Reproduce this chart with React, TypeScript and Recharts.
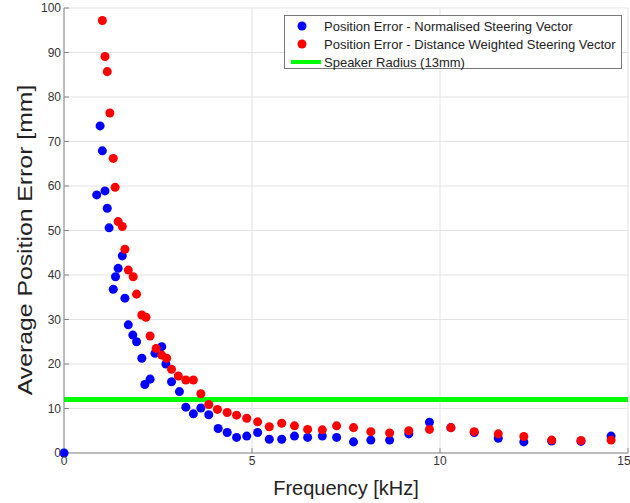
import { ScatterChart, Scatter, XAxis, YAxis, ZAxis, CartesianGrid, ReferenceLine } from 'recharts'

// frequency [kHz] / average position error [mm]
const freqNorm = [0, 0.87, 0.96, 1.02, 1.09, 1.15, 1.2, 1.31, 1.37, 1.44, 1.55, 1.62, 1.71, 1.83, 1.93, 2.07, 2.15, 2.29, 2.42, 2.6, 2.71, 2.86, 3.07, 3.24, 3.44, 3.64, 3.85, 4.1, 4.34, 4.59, 4.86, 5.15, 5.46, 5.79, 6.13, 6.48, 6.87, 7.25, 7.7, 8.16, 8.66, 9.17, 9.72, 10.29, 10.91, 11.55, 12.23, 12.97, 13.75, 14.55]
const errNorm = [0, 58.0, 73.5, 67.9, 58.9, 55.0, 50.6, 36.8, 39.6, 41.5, 44.3, 34.8, 28.8, 26.5, 25.0, 21.3, 15.4, 16.6, 22.4, 23.9, 20.0, 16.0, 13.8, 10.3, 8.8, 10.1, 8.6, 5.5, 4.6, 3.5, 3.8, 4.6, 3.1, 3.1, 3.8, 3.5, 3.8, 3.5, 2.5, 2.9, 2.9, 4.3, 6.9, 5.7, 4.6, 3.3, 2.5, 2.7, 2.6, 3.8]

const freqWeighted = [1.02, 1.09, 1.15, 1.22, 1.31, 1.36, 1.44, 1.55, 1.62, 1.71, 1.84, 1.93, 2.07, 2.18, 2.29, 2.45, 2.6, 2.73, 2.86, 3.04, 3.24, 3.44, 3.64, 3.85, 4.08, 4.34, 4.59, 4.86, 5.15, 5.46, 5.79, 6.13, 6.48, 6.87, 7.25, 7.7, 8.16, 8.66, 9.17, 9.72, 10.29, 10.91, 11.55, 12.23, 12.97, 13.75, 14.55]
const errWeighted = [97.2, 89.1, 85.7, 76.4, 66.2, 59.7, 52.0, 50.9, 45.8, 41.1, 39.6, 35.7, 31.0, 30.5, 26.3, 23.5, 22.0, 21.3, 18.8, 17.3, 16.4, 16.4, 13.3, 10.9, 9.8, 9.1, 8.5, 7.8, 7.0, 5.9, 6.7, 6.1, 5.3, 5.2, 6.1, 5.7, 4.8, 4.5, 5.0, 5.3, 5.7, 4.8, 4.3, 3.7, 2.9, 2.8, 2.9]

const speakerRadius = 12
const xTicks = [0, 5, 10, 15]
const yTicks = [0, 10, 20, 30, 40, 50, 60, 70, 80, 90, 100]

const seriesNames = [
  'Position Error - Normalised Steering Vector',
  'Position Error - Distance Weighted Steering Vector',
  'Speaker Radius (13mm)',
]

const normData = freqNorm.map((f, i) => ({ f, e: errNorm[i] }))
const weightedData = freqWeighted.map((f, i) => ({ f, e: errWeighted[i] }))

const font = '"Liberation Sans", Arial, sans-serif'

function LegendBox() {
  const rows = [
    { name: seriesNames[0], color: '#0000ff', dot: true },
    { name: seriesNames[1], color: '#ff0000', dot: true },
    { name: seriesNames[2], color: '#00ff00', dot: false },
  ]
  return (
    <div
      style={{
        position: 'absolute',
        left: 284,
        top: 15,
        width: 338,
        height: 54,
        boxSizing: 'border-box',
        border: '1px solid #777',
        background: '#fff',
        padding: '1px 0 0 6px',
        fontFamily: font,
        fontSize: 13,
        color: '#222',
      }}
    >
      {rows.map((r) => (
        <div key={r.name} style={{ display: 'flex', alignItems: 'center', height: 18 }}>
          <svg width={32} height={10} style={{ marginRight: 1 }}>
            {r.dot ? (
              <circle cx={11} cy={5} r={4.5} fill={r.color} />
            ) : (
              <line x1={0} y1={5} x2={30} y2={5} stroke={r.color} strokeWidth={4} />
            )}
          </svg>
          <span>{r.name}</span>
        </div>
      ))}
    </div>
  )
}

function YLabel() {
  return (
    <text
      transform="translate(25, 240) rotate(-90) scale(1.18, 1)"
      textAnchor="middle"
      dominantBaseline="central"
      fontSize={21}
      fill="#222"
      fontFamily={font}
    >
      Average Position Error [mm]
    </text>
  )
}

export default function App() {
  return (
    <div style={{ position: 'absolute', left: 0, top: 0, width: 630, height: 503, background: '#fff' }}>
      <ScatterChart width={630} height={503} margin={{ top: 8, right: 2, bottom: 0, left: 0 }}>
        <CartesianGrid stroke="#e2e2e2" />
        <XAxis
          type="number"
          dataKey="f"
          domain={[0, 15]}
          ticks={xTicks}
          height={50}
          tickSize={-5}
          tickMargin={8}
          tickLine={{ stroke: '#888' }}
          axisLine={{ stroke: '#888' }}
          tick={{ fontSize: 12, fill: '#333', fontFamily: font }}
          label={{ value: 'Frequency [kHz]', position: 'insideBottom', offset: 8, fontSize: 20, fill: '#222', fontFamily: font }}
        />
        <YAxis
          type="number"
          dataKey="e"
          domain={[0, 100]}
          ticks={yTicks}
          width={64}
          tickSize={-5}
          tickMargin={8}
          tickLine={{ stroke: '#888' }}
          axisLine={{ stroke: '#888' }}
          tick={{ fontSize: 12, fill: '#333', fontFamily: font }}
          label={{ content: () => <YLabel /> }}
        />
        <ZAxis range={[90, 90]} />
        <ReferenceLine y={speakerRadius} stroke="#00ff00" strokeWidth={5} />
        <Scatter name={seriesNames[0]} data={normData} fill="#0000ff" isAnimationActive={false} />
        <Scatter name={seriesNames[1]} data={weightedData} fill="#ff0000" isAnimationActive={false} />
      </ScatterChart>
      <LegendBox />
    </div>
  )
}
